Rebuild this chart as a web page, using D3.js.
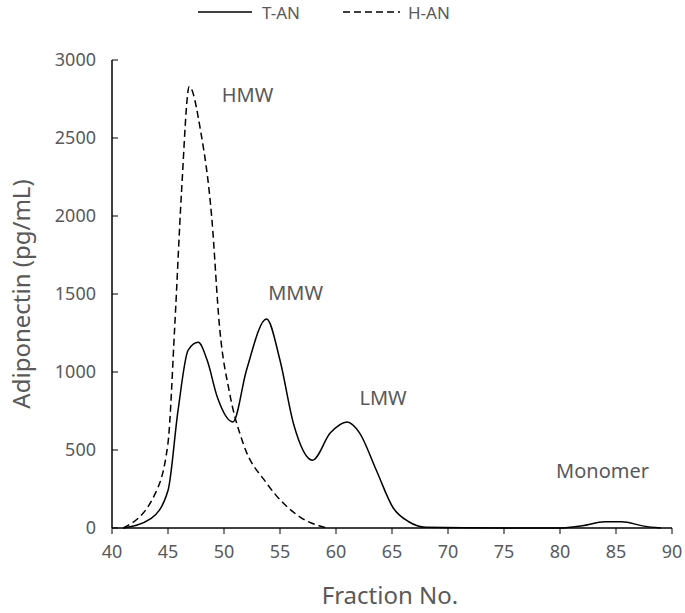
<!DOCTYPE html><html><head><meta charset="utf-8"><script src="https://cdn.jsdelivr.net/npm/d3@7"></script>
<style>body{margin:0;background:#fff}text{font-family:"Noto Sans",sans-serif;fill:#595959}</style></head><body><svg id="c" width="685" height="613"></svg><script>
const xTicks=[40,45,50,55,60,65,70,75,80,85,90];
const yTicks=[0,500,1000,1500,2000,2500,3000];
const tanX=[41,43.5,45,45.9,46.8,47.7,48.5,49.4,50.8,52.0,53.8,55,56.2,57.9,59.5,61,62.1,63.6,65.1,66.5,68,75,80,82,84,85.5,87.5,89];
const tanY=[0,62,240,755,1140,1190,1075,840,680,1010,1340,1075,670,435,610,680,610,370,130,40,5,0,0,15,40,40,12,0];
const hanX=[41,43.8,45,45.6,46.2,46.9,47.9,48.9,49.6,50.5,51.7,53.8,56.8,59.2];
const hanY=[0,212,545,1290,2145,2830,2550,1995,1290,865,545,288,70,0];
const labels=[["HMW",52.1,2730],["MMW",56.4,1460],["LMW",64.2,790],["Monomer",83.8,320]];
const svg=d3.select("#c");
const x=d3.scaleLinear().domain([40,90]).range([112,672]);
const y=d3.scaleLinear().domain([0,3000]).range([528,60]);
const g=svg.append("g");
g.append("line").attr("x1",x(40)).attr("x2",x(90)).attr("y1",y(0)).attr("y2",y(0)).attr("stroke","#000").attr("stroke-width",1.5);
g.append("line").attr("x1",x(40)).attr("x2",x(40)).attr("y1",y(0)).attr("y2",y(3000)).attr("stroke","#000").attr("stroke-width",1.5);
xTicks.forEach(t=>{g.append("line").attr("x1",x(t)).attr("x2",x(t)).attr("y1",y(0)).attr("y2",y(0)+6).attr("stroke","#000");
 g.append("text").attr("x",x(t)).attr("y",y(0)+30).attr("text-anchor","middle").attr("font-size",18).text(t);});
yTicks.forEach(t=>{g.append("line").attr("x1",x(40)).attr("x2",x(40)+6).attr("y1",y(t)).attr("y2",y(t)).attr("stroke","#000");
 g.append("text").attr("x",x(40)-16).attr("y",y(t)+6).attr("text-anchor","end").attr("font-size",18).text(t);});
const line=d3.line().curve(d3.curveMonotoneX).x(d=>x(d[0])).y(d=>y(d[1]));
svg.append("path").attr("d",line(tanX.map((v,i)=>[v,tanY[i]]))).attr("fill","none").attr("stroke","#000").attr("stroke-width",1.5);
svg.append("path").attr("d",line(hanX.map((v,i)=>[v,hanY[i]]))).attr("fill","none").attr("stroke","#000").attr("stroke-width",1.5).attr("stroke-dasharray","7,4");
labels.forEach(l=>svg.append("text").attr("x",x(l[1])).attr("y",y(l[2])).attr("text-anchor","middle").attr("font-size",20).text(l[0]));
svg.append("text").attr("x",390).attr("y",604).attr("text-anchor","middle").attr("font-size",24).text("Fraction No.");
svg.append("text").attr("transform","translate(30,294) rotate(-90)").attr("text-anchor","middle").attr("font-size",24).text("Adiponectin (pg/mL)");
svg.append("line").attr("x1",198).attr("x2",252).attr("y1",12).attr("y2",12).attr("stroke","#000").attr("stroke-width",1.5);
svg.append("text").attr("x",262).attr("y",19).attr("font-size",17).text("T-AN");
svg.append("line").attr("x1",343).attr("x2",400).attr("y1",12).attr("y2",12).attr("stroke","#000").attr("stroke-width",1.5).attr("stroke-dasharray","7,4");
svg.append("text").attr("x",408).attr("y",19).attr("font-size",17).text("H-AN");
</script></body></html>
